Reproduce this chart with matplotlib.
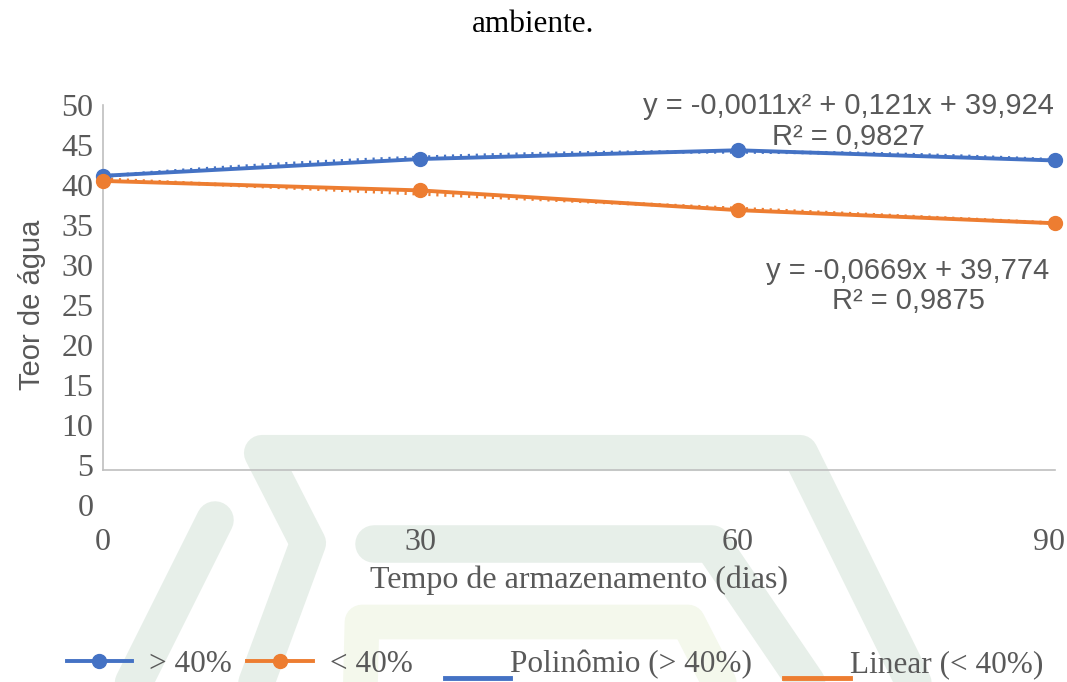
import matplotlib
matplotlib.use("Agg")
import matplotlib.pyplot as plt
import matplotlib.transforms as mtrans
import numpy as np
from matplotlib.lines import Line2D
from matplotlib.legend_handler import HandlerLine2D

# dados
dias = [0, 30, 60, 90]
acima_40 = [40.3, 42.6, 43.8, 42.4]
abaixo_40 = [39.6, 38.3, 35.6, 33.8]
y_ticks = [0, 5, 10, 15, 20, 25, 30, 35, 40, 45, 50]
nomes = ["> 40%", "< 40%", "Polinômio (> 40%)", "Linear (< 40%)"]
eq_poli = "y = -0,0011x\u00b2 + 0,121x + 39,924\nR\u00b2 = 0,9827"
eq_lin = "y = -0,0669x + 39,774\nR\u00b2 = 0,9875"

AZUL = "#4472C4"
LARANJA = "#ED7D31"
CINZA = "#595959"
EIXO = "#BFBFBF"
SERIF = "Liberation Serif"
SANS = "Liberation Sans"

W, H = 1067, 682
fig = plt.figure(figsize=(W / 100, H / 100), dpi=100)


def px(x, y):
    return x / W, 1 - y / H


# marca d'água do documento (fundo)
def faixa(pts, cor, lw):
    xs = [px(*p)[0] for p in pts]
    ys = [px(*p)[1] for p in pts]
    fig.add_artist(Line2D(xs, ys, transform=fig.transFigure, color=cor, lw=lw,
                          solid_capstyle="round", solid_joinstyle="round", zorder=0))


verde = "#e7efe9"
faixa([(250, 700), (308, 543), (262, 453), (800, 453), (922, 700)], verde, 26)
faixa([(374, 544), (712, 544), (825, 710)], verde, 27)
faixa([(215, 520), (125, 700)], verde, 27)
faixa([(360, 700), (362, 622), (688, 622), (728, 700)], "#f4f8ec", 25)

fig.text(0.5, 1 - 25 / H, "ambiente.", ha="center", va="center",
         fontsize=22.5, family=SERIF, color="black")

ax = fig.add_axes([103 / W, 1 - 470 / H, 952 / W, 365 / H], facecolor="none")
ax.set_xlim(0, 90)
ax.set_ylim(0, 50)
for s in ["top", "right"]:
    ax.spines[s].set_visible(False)
for s in ["left", "bottom"]:
    ax.spines[s].set_color(EIXO)
    ax.spines[s].set_linewidth(1.2)
ax.set_yticks([])
ax.set_xticks(dias)
ax.set_xticklabels([str(d) for d in dias], fontsize=23, family=SERIF, color=CINZA)
ax.tick_params(axis="x", length=0, pad=42)
ult = ax.get_xticklabels()[-1]
ult.set_transform(ult.get_transform() +
                  mtrans.ScaledTranslation(-6 / 100, 0, fig.dpi_scale_trans))
ax.set_xlabel("Tempo de armazenamento (dias)", fontsize=23, family=SERIF,
              color=CINZA, labelpad=6)

# rótulos do eixo y (deslocados como no original)
lab = fig.add_axes([103 / W, 1 - 505 / H, 952 / W, 400 / H], facecolor="none")
lab.set_ylim(0, 50)
lab.set_yticks(y_ticks)
lab.set_yticklabels([str(v) for v in y_ticks], fontsize=23, family=SERIF, color=CINZA)
lab.set_xticks([])
lab.tick_params(axis="y", length=0, pad=7)
for s in lab.spines.values():
    s.set_visible(False)
lab.set_ylabel("Teor de água", fontsize=21, family=SANS, color=CINZA, labelpad=11)

# séries
l1, = ax.plot(dias, acima_40, color=AZUL, lw=2.8, marker="o", ms=10,
              zorder=4, clip_on=False)
l2, = ax.plot(dias, abaixo_40, color=LARANJA, lw=2.8, marker="o", ms=10,
              zorder=4, clip_on=False)

# linhas de tendência
xx = np.linspace(0, 90, 200)
c_poli = np.polyfit(dias, acima_40, 2)
c_lin = np.polyfit(dias, abaixo_40, 1)
t1, = ax.plot(xx, np.polyval(c_poli, xx), color=AZUL, lw=2.6,
              ls=(0, (0.6, 1.6)), zorder=3)
t2, = ax.plot(xx, np.polyval(c_lin, xx), color=LARANJA, lw=2.6,
              ls=(0, (0.6, 1.6)), zorder=3)

ax.text(70.5, 47.7, eq_poli, ha="center", va="center", fontsize=21,
        family=SANS, color=CINZA, linespacing=1.15, clip_on=False)
ax.text(76.1, 25.2, eq_lin, ha="center", va="center", fontsize=21,
        family=SANS, color=CINZA, linespacing=1.1)


class HandlerBaixo(HandlerLine2D):
    # linha de tendência na legenda: encostada na base do texto
    def create_artists(self, legend, orig_handle, xdescent, ydescent,
                       width, height, fontsize, trans):
        desl = legend.handletextpad * fontsize
        linha = Line2D([-xdescent + desl, -xdescent + width + desl],
                       [-ydescent - 4, -ydescent - 4],
                       color=orig_handle.get_color(), lw=3.5)
        linha.set_transform(trans)
        return [linha]


leg = fig.legend([l1, l2, t1, t2], nomes,
                 loc="lower center", bbox_to_anchor=(0.52, -0.037), ncol=4,
                 frameon=False, prop={"family": SERIF, "size": 22.5},
                 handlelength=2.1, handletextpad=0.55, columnspacing=0.47,
                 handler_map={t1: HandlerBaixo(), t2: HandlerBaixo()})
for t in leg.get_texts():
    t.set_color(CINZA)

fig.savefig("out.png", dpi=100)
